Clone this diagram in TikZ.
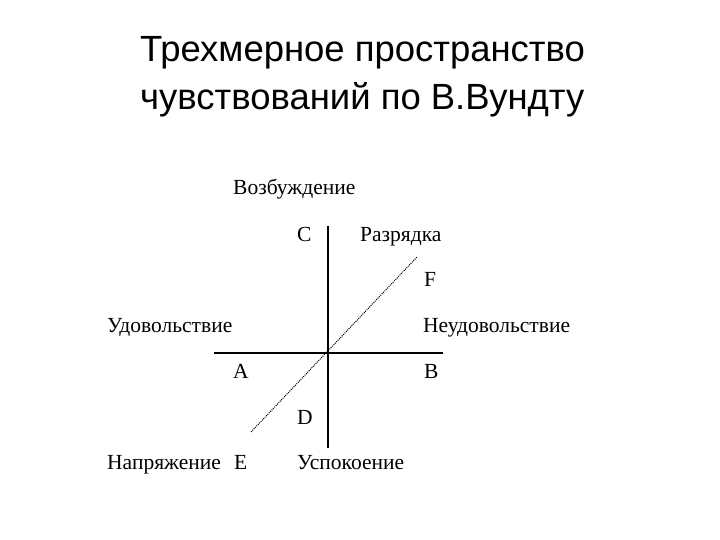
\documentclass[tikz,border=0pt]{standalone}
\usepackage{fontspec}
\setmainfont{Liberation Serif}
\newfontfamily\titlefont{Liberation Sans}
\begin{document}
\begin{tikzpicture}[x=1bp,y=-1bp,
    lbl/.style={anchor=base west,inner sep=0pt,font=\fontsize{21.6}{26}\selectfont},
    ttl/.style={anchor=base west,inner sep=0pt,font=\titlefont\fontsize{36.6}{44}\selectfont},
    axis/.style={line width=1.6bp},
    thirdaxis/.style={line width=1bp,dash pattern=on 1bp off 1bp}]
    \useasboundingbox (0,0) rectangle (720,540);

    % title
    \node[ttl] (title1) at (140,62) {Трехмерное пространство};
    \node[ttl] (title2) at (140,110) {чувствований по В.Вундту};

    % axes
    \coordinate (top)    at (328,226);
    \coordinate (bottom) at (328,448);
    \coordinate (left)   at (214,353);
    \coordinate (right)  at (443,353);
    \coordinate (lowend) at (251,432);
    \coordinate (upend)  at (417,257);

    \draw[axis] (left) -- (right);
    \draw[axis] (top) -- (bottom);
    \draw[thirdaxis] (lowend) -- (upend);

    % labels
    \node[lbl] (excite)  at (233,195) {Возбуждение};
    \node[lbl] (C)       at (297,242) {C};
    \node[lbl] (relief)  at (360,242) {Разрядка};
    \node[lbl] (F)       at (424,287) {F};
    \node[lbl] (pleas)   at (107,332) {Удовольствие};
    \node[lbl] (displ)   at (423,332) {Неудовольствие};
    \node[lbl] (A)       at (233,378) {A};
    \node[lbl] (B)       at (424,378) {B};
    \node[lbl] (D)       at (297,424) {D};
    \node[lbl] (tension) at (107,469) {Напряжение};
    \node[lbl] (E)       at (234,469) {E};
    \node[lbl] (calm)    at (297,469) {Успокоение};
\end{tikzpicture}
\end{document}
